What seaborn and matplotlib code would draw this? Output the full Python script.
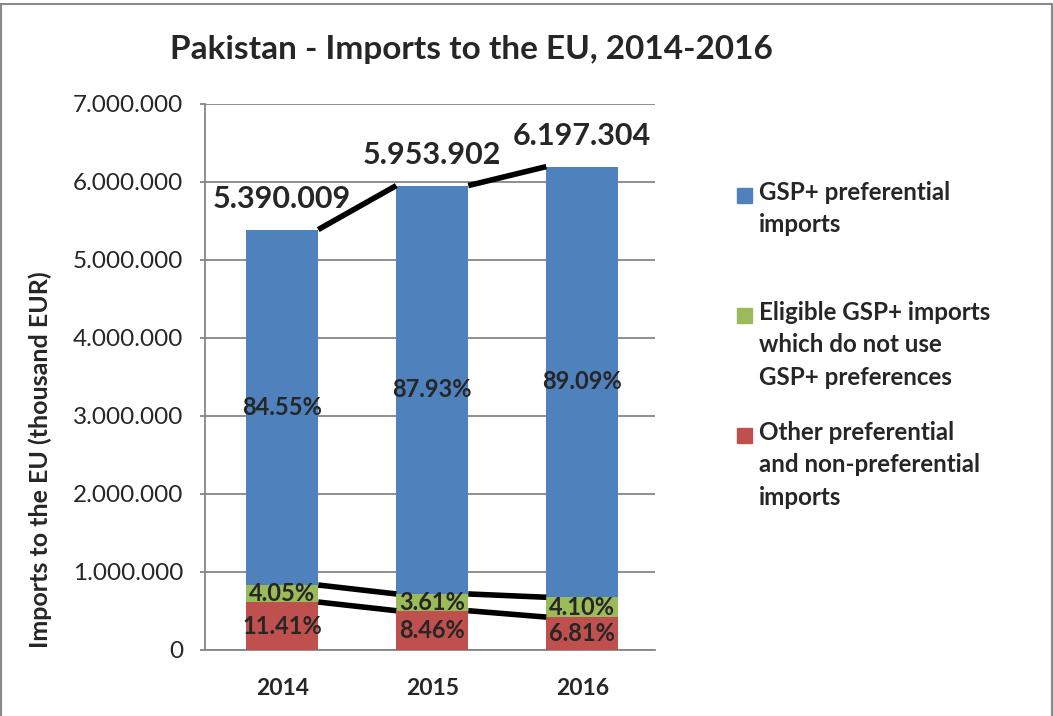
import matplotlib
matplotlib.use("Agg")
import matplotlib.pyplot as plt
import matplotlib.patches as mpatches
import seaborn as sns
import pandas as pd
import numpy as np
from matplotlib.ticker import FuncFormatter

years = ["2014", "2015", "2016"]
totals = [5390009, 5953902, 6197304]
pct_gsp = [84.55, 87.93, 89.09]
pct_eligible = [4.05, 3.61, 4.10]
pct_other = [11.41, 8.46, 6.81]

series_names = [
    "GSP+ preferential\nimports",
    "Eligible GSP+ imports\nwhich do not use\nGSP+ preferences",
    "Other preferential\nand non-preferential\nimports",
]
colors = ["#4F81BD", "#9BBB59", "#C0504D"]

sns.set_style("white")
plt.rcParams["font.family"] = ["Lato", "DejaVu Sans"]

tot = np.array(totals, dtype=float)
top_other = tot * np.array(pct_other) / 100
top_elig = tot * (np.array(pct_other) + np.array(pct_eligible)) / 100
df = pd.DataFrame({"year": years, "total": tot, "elig": top_elig, "other": top_other})

fig = plt.figure(figsize=(10.53, 7.16), dpi=100)
ax = fig.add_axes([205 / 1053, 66 / 716, 450 / 1053, 546 / 716])

bw = 0.48
for col, c in zip(["total", "elig", "other"], colors):
    sns.barplot(data=df, x="year", y=col, color=c, saturation=1, width=bw,
                linewidth=0, ax=ax, zorder=3)

# series lines between bars
for tops in [tot, top_elig, top_other]:
    for i in range(len(years) - 1):
        ax.plot([i + bw / 2, i + 1 - bw / 2], [tops[i], tops[i + 1]],
                color="black", lw=4, solid_capstyle="butt", zorder=4)

# segment labels
for i in range(len(years)):
    ax.text(i, (top_elig[i] + tot[i]) / 2, f"{pct_gsp[i]:.2f}%", ha="center", va="center",
            fontsize=17, fontweight="bold", zorder=5)
    ax.text(i, (top_other[i] + top_elig[i]) / 2, f"{pct_eligible[i]:.2f}%", ha="center", va="center",
            fontsize=17, fontweight="bold", zorder=5)
    ax.text(i, top_other[i] / 2, f"{pct_other[i]:.2f}%", ha="center", va="center",
            fontsize=17, fontweight="bold", zorder=5)
    ax.annotate(f"{totals[i]:,}".replace(",", "."), (i, tot[i]), xytext=(0, 22),
                textcoords="offset points", ha="center", va="center",
                fontsize=22, fontweight="bold", zorder=5)

ax.set_xlim(-0.515, 2.485)
ax.set_ylim(0, 7000000)
ax.set_yticks(np.arange(0, 7000001, 1000000))
ax.yaxis.set_major_formatter(FuncFormatter(lambda v, p: f"{int(v):,}".replace(",", ".")))
ax.grid(axis="y", color="#868686", lw=1.3, zorder=0)
ax.grid(axis="x", visible=False)
for s in ["top", "right"]:
    ax.spines[s].set_visible(False)
for s in ["left", "bottom"]:
    ax.spines[s].set_color("#868686")
    ax.spines[s].set_linewidth(1.3)
ax.tick_params(axis="y", length=3.6, width=1.3, color="#868686", labelsize=17.5, pad=12, left=True)
ax.tick_params(axis="x", length=0, labelsize=16.5, pad=20)
for lab in ax.get_xticklabels():
    lab.set_fontweight("bold")
ax.set_xlabel("")
ax.set_ylabel("Imports to the EU (thousand EUR)", fontsize=18, fontweight="bold")
ax.yaxis.set_label_coords(-153 / 450, (650 - 460) / 546)

fig.text(471 / 1053, 1 - 50 / 716, "Pakistan - Imports to the EU, 2014-2016",
         ha="center", va="center", fontsize=24, fontweight="bold")

# legend drawn by hand to match the uneven spacing
leg_y = [196, 316, 436]
for name, c, y in zip(series_names, colors, leg_y):
    fig.add_artist(mpatches.Rectangle((737 / 1053, 1 - (y + 7) / 716), 15 / 1053, 15 / 716,
                                      transform=fig.transFigure, color=c))
    fig.text(759 / 1053, 1 - (y - 15) / 716, name, ha="left", va="top",
             fontsize=17.4, fontweight="bold", linespacing=1.5)

# outer frame
fig.add_artist(mpatches.Rectangle((1 / 1053, -0.01), 1051 / 1053, 1 - 4 / 716 + 0.01,
                                  transform=fig.transFigure, fill=False,
                                  edgecolor="#888888", lw=1.5))

fig.savefig("out.png", dpi=100)
